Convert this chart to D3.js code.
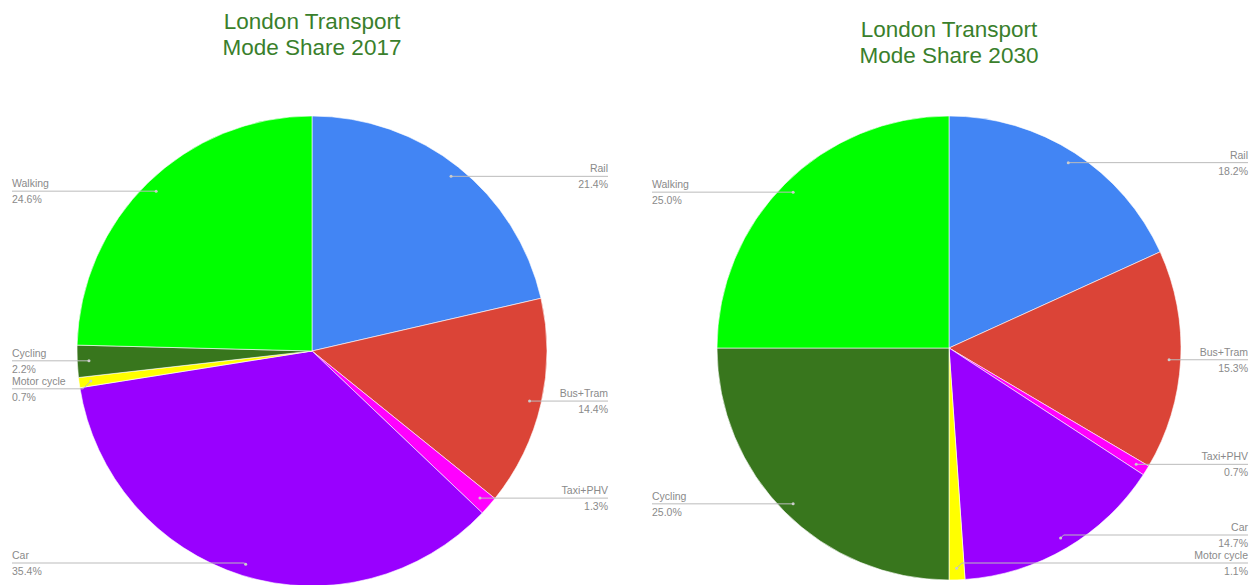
<!DOCTYPE html>
<html><head><meta charset="utf-8">
<script src="https://cdn.jsdelivr.net/npm/d3@7"></script>
<style>body{margin:0;background:#fff;}svg{display:block;}</style>
</head><body><svg id="c" width="1256" height="585"></svg>
<script>
const categories = ["Rail","Bus+Tram","Taxi+PHV","Car","Motor cycle","Cycling","Walking"];
const colors = ["#4285f4","#db4437","#ff00ff","#9900ff","#ffff00","#38761d","#00ff00"];
const values2017 = [21.4,14.4,1.3,35.4,0.7,2.2,24.6];
const values2030 = [18.2,15.3,0.7,14.7,1.1,25.0,25.0];
const titles = [["London Transport","Mode Share 2017"],["London Transport","Mode Share 2030"]];

const svg = d3.select("#c");
const font = "'Liberation Sans', Arial, sans-serif";

function drawPie(values, title, cx, cy, r, titleY, leftX, rightX){
  const g = svg.append("g");
  g.selectAll("text.title").data(title).join("text")
    .attr("x", cx).attr("y", (d,i)=>titleY + i*26)
    .attr("text-anchor","middle").attr("font-family",font).attr("font-size",22.5)
    .attr("fill","#3a7f2c").text(d=>d);
  const data = categories.map((c,i)=>({name:c, value:values[i], color:colors[i]}));
  const pie = d3.pie().sort(null).value(d=>d.value);
  const arcs = pie(data);
  const arc = d3.arc().innerRadius(0).outerRadius(r);
  const pg = g.append("g").attr("transform",`translate(${cx},${cy})`);
  pg.selectAll("path").data(arcs).join("path")
    .attr("d",arc).attr("fill",d=>d.data.color).attr("stroke","#fff").attr("stroke-width",0.6);
  const total = d3.sum(values);
  const labs = arcs.map(a=>{
    const m=(a.startAngle+a.endAngle)/2;
    const px = cx + 0.95*r*Math.sin(m), py = cy - 0.95*r*Math.cos(m);
    return {a, px, py, y:py, side: Math.sin(m)>=0 ? "right":"left"};
  });
  ["left","right"].forEach(side=>{
    const grp = labs.filter(l=>l.side===side).sort((a,b)=>a.y-b.y);
    for(let i=1;i<grp.length;i++) if(grp[i].y-grp[i-1].y<28) grp[i].y=grp[i-1].y+28;
    const maxY=563;
    if(grp.length && grp[grp.length-1].y>maxY){
      grp[grp.length-1].y=maxY;
      for(let i=grp.length-2;i>=0;i--) if(grp[i+1].y-grp[i].y<28) grp[i].y=grp[i+1].y-28;
    }
  });
  labs.forEach(l=>{
    const x0 = l.side==="left"?leftX:rightX;
    const dy = Math.abs(l.py-l.y);
    const xb = l.side==="left"? l.px-dy : l.px+dy;
    g.append("polyline")
      .attr("points", `${x0},${l.y} ${xb},${l.y} ${l.px},${l.py}`)
      .attr("fill","none").attr("stroke","#bbbbbb").attr("stroke-width",1);
    g.append("circle").attr("cx",l.px).attr("cy",l.py).attr("r",1.5).attr("fill","#cccccc");
    const anchor = l.side==="left"?"start":"end";
    g.append("text").attr("x",x0).attr("y",l.y-4).attr("text-anchor",anchor)
      .attr("font-family",font).attr("font-size",10.5).attr("fill","#8a8a8a").text(l.a.data.name);
    g.append("text").attr("x",x0).attr("y",l.y+12).attr("text-anchor",anchor)
      .attr("font-family",font).attr("font-size",10.5).attr("fill","#8a8a8a")
      .text((l.a.data.value/total*100).toFixed(1)+"%");
  });
}
drawPie(values2017, titles[0], 312, 351, 235, 29, 12, 608);
drawPie(values2030, titles[1], 949, 348, 232, 37, 652, 1248);
</script></body></html>
